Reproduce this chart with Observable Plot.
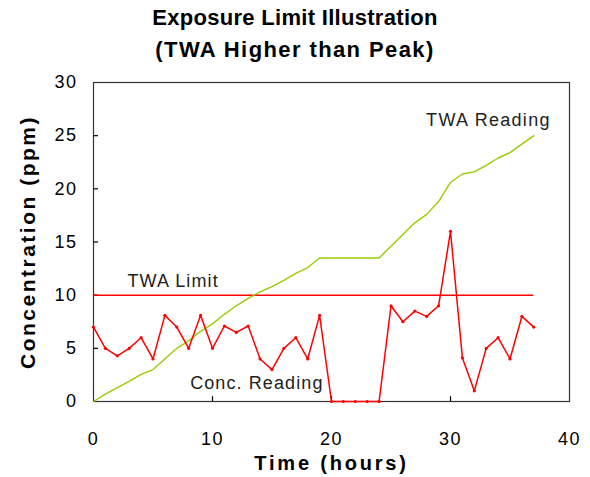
<!DOCTYPE html>
<html><head><meta charset="utf-8">
<script src="https://cdn.jsdelivr.net/npm/d3@7"></script>
<script src="https://cdn.jsdelivr.net/npm/@observablehq/plot@0.6"></script>
<style>
body{margin:0;background:#fff;font-family:"Liberation Sans",Arial,sans-serif;}
#title{width:590px;height:72px;box-sizing:border-box;padding-top:2px;text-align:center;font-weight:bold;font-size:22px;line-height:32px;color:#000;}
#t1{letter-spacing:0.3px;}
#t2{letter-spacing:1.4px;}
</style></head><body>
<div id="title"><div id="t1">Exposure Limit Illustration</div><div id="t2">(TWA Higher than Peak)</div></div>
<div id="chart"></div>
<script>
const hours = [0,1,2,3,4,5,6,7,8,9,10,11,12,13,14,15,16,17,18,19,20,21,22,23,24,25,26,27,28,29,30,31,32,33,34,35,36,37];
const concReading = [7,5,4.3,5,6,4,8.1,7,5,8.1,5,7.1,6.5,7.1,4,3,5,6,4,8.1,0,0,0,0,0,9,7.5,8.5,8,9,16,4.1,1,5,6,4,8,7];
const twaReading = [0,0.7,1.3,1.9,2.55,3,4,5,5.7,6.6,7.3,8.2,9,9.7,10.3,10.8,11.4,12.05,12.6,13.5,13.5,13.5,13.5,13.5,13.5,14.6,15.7,16.8,17.6,18.8,20.6,21.4,21.6,22.2,22.9,23.4,24.2,25];
const twaLimit = 10;
const limitHours = [0, 37];
const xTicks = [0,10,20,30,40];
const yTicks = [0,5,10,15,20,25,30];
const seriesNames = ["Conc. Reading","TWA Reading","TWA Limit"];
const xLabel = "Time (hours)";
const yLabel = "Concentration (ppm)";

const conc = hours.map((h,i)=>({h, v: concReading[i]}));
const twa = hours.map((h,i)=>({h, v: twaReading[i]}));
const labelStyle = {fontSize: 18, fill: "#222"};

const chart = Plot.plot({
  width: 590, height: 405,
  marginTop: 10, marginBottom: 76, marginLeft: 93, marginRight: 21,
  style: {fontFamily: "Liberation Sans, Arial, sans-serif", fontSize: "18px", color: "#000", background: "#fff", overflow: "visible"},
  x: {domain: [0, 40], ticks: xTicks},
  y: {domain: [0, 30], ticks: yTicks},
  marks: [
    Plot.frame({stroke: "#333", strokeWidth: 1.2}),
    Plot.ruleX(xTicks.slice(1, -1), {x: d=>d, y1: 0, y2: 0.45, stroke: "#000", strokeWidth: 1.2}),
    Plot.ruleY(yTicks.slice(1, -1), {y: d=>d, x1: 0, x2: 0.42, stroke: "#000", strokeWidth: 1.2}),
    Plot.axisX(xTicks, {tickSize: 0, tickPadding: 31, fontSize: 18, label: null}),
    Plot.axisY(yTicks, {tickSize: 0, tickPadding: 16, fontSize: 18, label: null}),
    Plot.ruleY([twaLimit], {x1: limitHours[0], x2: limitHours[1], stroke: "#ff0000", strokeWidth: 1.5}),
    Plot.line(twa, {x: "h", y: "v", stroke: "#99cc00", strokeWidth: 1.4}),
    Plot.line(conc, {x: "h", y: "v", stroke: "#ff0000", strokeWidth: 1.5}),
    Plot.dot(conc, {x: "h", y: "v", r: 1.6, fill: "#ff0000"}),
    Plot.text([twa[twa.length - 1]], {x: "h", y: "v", text: () => seriesNames[1], textAnchor: "end", dx: 17, dy: -15, ...labelStyle}),
    Plot.text([{h: limitHours[0], v: twaLimit}], {x: "h", y: "v", text: () => seriesNames[2], textAnchor: "start", dx: 34, dy: -14, ...labelStyle}),
    Plot.text([conc[20]], {x: "h", y: "v", text: () => seriesNames[0], textAnchor: "end", dx: -8, dy: -18, ...labelStyle}),
    Plot.text([xLabel], {frameAnchor: "bottom", lineAnchor: "middle", dy: 62, fontSize: 20, fontWeight: "bold", fill: "#000"}),
    Plot.text([yLabel], {frameAnchor: "left", textAnchor: "middle", dx: -65, rotate: -90, fontSize: 21, fontWeight: "bold", fill: "#000"})
  ]
});
const spacing = new Map([[xLabel, 2.8], [yLabel, 2.5], [seriesNames[0], 1.1], [seriesNames[1], 1.3], [seriesNames[2], 1.1]]);
d3.select(chart).selectAll("text").each(function() {
  const s = spacing.get(this.textContent);
  if (s != null) this.setAttribute("letter-spacing", s);
});
d3.select(chart).selectAll('g[aria-label$="tick label"] text').attr("letter-spacing", 1.5);
document.getElementById("chart").appendChild(chart);
</script>
</body></html>
